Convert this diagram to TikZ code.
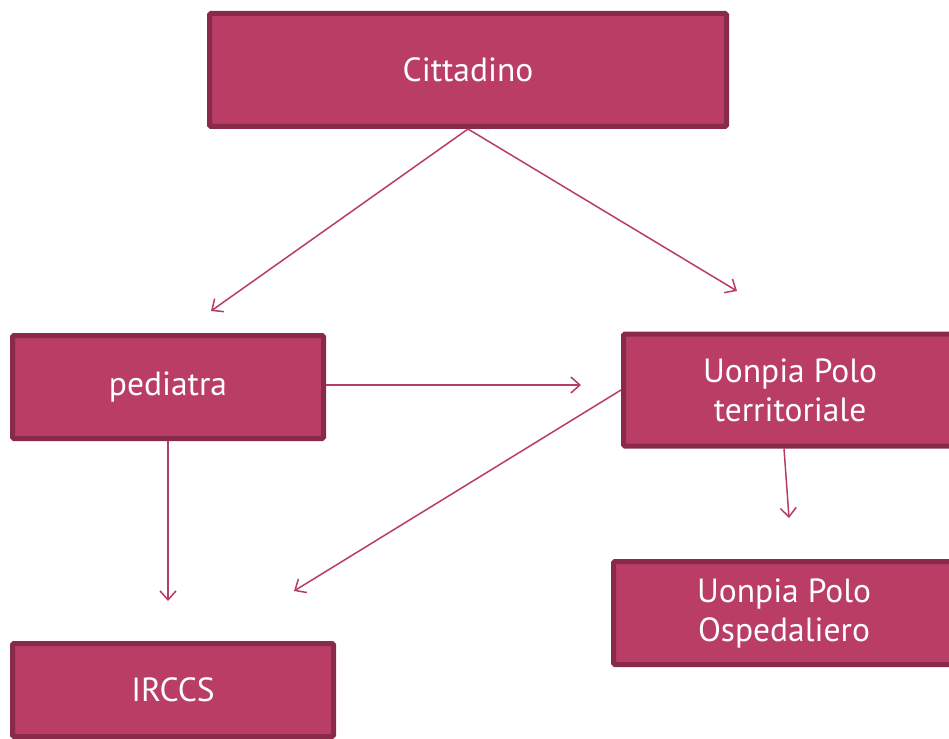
\documentclass[tikz,border=0pt]{standalone}
\usepackage{fontspec}
\setmainfont{PT Sans}
\usetikzlibrary{arrows.meta}
\definecolor{boxfill}{HTML}{BA3D66}
\definecolor{boxline}{HTML}{8A2A4A}
\definecolor{arrowcol}{HTML}{B83D66}
\tikzset{
  box/.style={draw=boxline, fill=boxfill, line width=5pt, rounded corners=1.5pt,
    text=white, font=\fontsize{33.5}{39}\selectfont, align=center, inner sep=0pt},
  conn/.style={draw=arrowcol, line width=1.5pt,
    -{Straight Barb[length=9pt,width=16pt,line width=1.5pt]}}
}
\begin{document}
\begin{tikzpicture}[x=1pt,y=-1pt]
\useasboundingbox (0,0) rectangle (949,738);
\fill[white] (0,0) rectangle (949,738);
\clip (0,0) rectangle (949,738);
\node[box, minimum width=517pt, minimum height=113pt] (cit) at (468,70) {Cittadino};
\node[box, minimum width=311pt, minimum height=103pt] (ped) at (168,387) {pediatra};
\node[box, minimum width=333pt, minimum height=112pt] (ter) at (790,390) {Uonpia Polo\\territoriale};
\node[box, minimum width=341pt, minimum height=103pt] (osp) at (784,613) {Uonpia Polo\\Ospedaliero};
\node[box, minimum width=321pt, minimum height=93pt] (irc) at (173,690) {IRCCS};
\coordinate (e1) at (211,311);
\coordinate (e2) at (737,291);
\coordinate (e3) at (581,385);
\coordinate (e4) at (294,591);
\coordinate (e5) at (168,601);
\coordinate (e6) at (789,518);
\draw[conn] (cit.south) -- (e1);
\draw[conn] (cit.south) -- (e2);
\draw[conn] (ped.east) ++(0,-2) -- (e3);
\draw[conn] (ter.west) -- (e4);
\draw[conn] (ped.south) -- (e5);
\draw[conn] (ter.south -| osp.north) -- (e6);
\end{tikzpicture}
\end{document}
